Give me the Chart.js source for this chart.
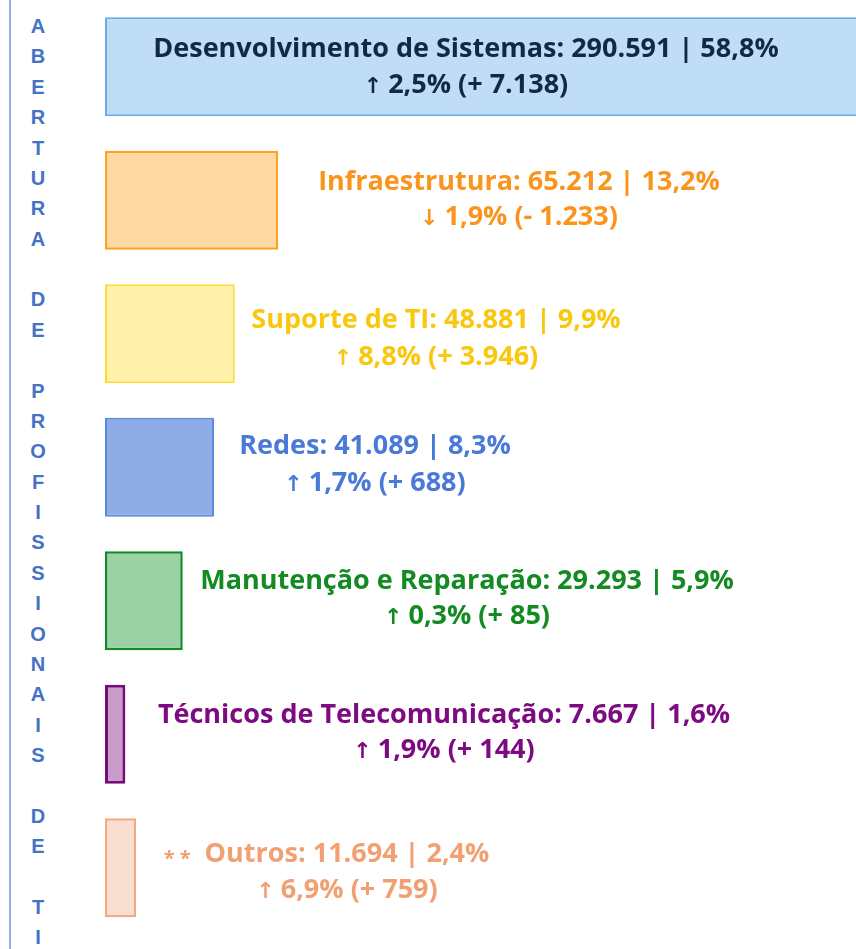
<!DOCTYPE html>
<html lang="pt">
<head>
<meta charset="utf-8">
<title>Abertura de profissionais de TI</title>
<script src="https://cdn.jsdelivr.net/npm/chart.js@4.4.1/dist/chart.umd.min.js"></script>
<style>
  html, body { margin: 0; padding: 0; background: #fff; }
  #wrap { position: relative; width: 856px; height: 949px; overflow: hidden; }
  #rule { position: absolute; left: 9px; top: 0; width: 2px; height: 949px; background: #93AFDE; }
  #side {
    position: absolute; left: 26px; top: 11px; width: 24px;
    font-family: "Liberation Sans", Arial, sans-serif; font-weight: bold; font-size: 20px;
    color: #4472C4; line-height: 30.37px; text-align: center;
  }
  canvas { position: absolute; left: 0; top: 0; }
</style>
</head>
<body>
<div id="wrap">
  <div id="rule"></div>
  <div id="side"></div>
  <canvas id="chart" width="856" height="949"></canvas>
</div>
<script>
  // Data
  const sideTitle = "ABERTURA DE PROFISSIONAIS DE TI";
  const categories = ["Desenvolvimento de Sistemas", "Infraestrutura", "Suporte de TI", "Redes",
    "Manutenção e Reparação", "Técnicos de Telecomunicação", "Outros"];
  const values = [290591, 65212, 48881, 41089, 29293, 7667, 11694];
  const shares = [58.8, 13.2, 9.9, 8.3, 5.9, 1.6, 2.4];
  const changePct = [2.5, -1.9, 8.8, 1.7, 0.3, 1.9, 6.9];
  const changeAbs = [7138, -1233, 3946, 688, 85, 144, 759];
  const footMarks = ["", "", "", "", "", "", "* *"];

  // Styles
  const fills = ["#BFDDF5", "#FFD9A4", "#FFF1A9", "#8EADE6", "#9BD2A4", "#C99BC9", "#F9DFCF"];
  const borders = ["#6AAAE8", "#FFA01E", "#FFD935", "#5A8BDC", "#108A26", "#7A0A7C", "#F4AA80"];
  const borderWidths = [2, 2.5, 2, 2, 2.5, 3, 2.5];
  const textColors = ["#112A44", "#F9951C", "#F9C80E", "#4A7AD8", "#138A22", "#7D0A80", "#F2A072"];
  // label centre x and baseline offsets from the bar centre
  const labelX = [466, 519, 436, 375, 467, 444, 347];
  const line1Dy = [-9.5, -10, -5.5, -13, -12, -11, -6];
  const line2Dy = [26.5, 25, 31.5, 24, 23, 24, 30];

  const mainFont = 'bold 27px "Open Sans", sans-serif';
  const arrowFont = 'bold 22px "DejaVu Sans", sans-serif';
  const markFont = 'bold 20px "Open Sans", sans-serif';

  // Side title, one letter per line
  document.getElementById("side").innerHTML = sideTitle.split("")
    .map(c => `<div>${c === " " ? "&nbsp;" : c}</div>`).join("");

  function fmtInt(n) {
    return String(Math.abs(n)).replace(/\B(?=(\d{3})+(?!\d))/g, ".");
  }
  function fmtPct(p) {
    return Math.abs(p).toFixed(1).replace(".", ",") + "%";
  }

  const barLabels = {
    id: "barLabels",
    afterDatasetsDraw(chart) {
      const ctx = chart.ctx;
      const meta = chart.getDatasetMeta(0);
      ctx.save();
      ctx.textBaseline = "alphabetic";
      meta.data.forEach((bar, i) => {
        const cx = labelX[i];
        ctx.fillStyle = textColors[i];

        // first line
        const l1 = `${categories[i]}: ${fmtInt(values[i])} | ${fmtPct(shares[i])}`;
        ctx.font = mainFont;
        ctx.textAlign = "center";
        const y1 = bar.y + line1Dy[i];
        ctx.fillText(l1, cx, y1);
        if (footMarks[i]) {
          const w1 = ctx.measureText(l1).width;
          ctx.font = markFont;
          ctx.textAlign = "right";
          ctx.fillText(footMarks[i], cx - w1 / 2 - 14, y1 + 3);
        }

        // second line: arrow + change
        const arrow = changePct[i] >= 0 ? "↑" : "↓";
        const rest = `${fmtPct(changePct[i])} (${changeAbs[i] >= 0 ? "+" : "-"} ${fmtInt(changeAbs[i])})`;
        ctx.font = arrowFont;
        const aw = ctx.measureText(arrow).width;
        ctx.font = mainFont;
        const rw = ctx.measureText(rest).width;
        const gap = 6;
        const left = cx - (aw + gap + rw) / 2;
        const y2 = bar.y + line2Dy[i];
        ctx.textAlign = "left";
        ctx.font = arrowFont;
        ctx.fillText(arrow, left, y2);
        ctx.font = mainFont;
        ctx.fillText(rest, left + aw + gap, y2);
      });
      ctx.restore();
    }
  };

  new Chart(document.getElementById("chart"), {
    type: "bar",
    data: {
      labels: categories,
      datasets: [{
        data: values,
        backgroundColor: fills,
        borderColor: borders,
        borderWidth: borderWidths,
        borderSkipped: false,
        barPercentage: 0.74,
        categoryPercentage: 1
      }]
    },
    options: {
      indexAxis: "y",
      responsive: false,
      animation: false,
      layout: { padding: { left: 105, right: 0, top: 0, bottom: 14.5 } },
      plugins: {
        legend: { display: false },
        tooltip: { enabled: false },
        title: { display: false }
      },
      scales: {
        x: { display: false, min: 0, max: 283000 },
        y: { display: false }
      }
    },
    plugins: [barLabels]
  });
</script>
</body>
</html>
